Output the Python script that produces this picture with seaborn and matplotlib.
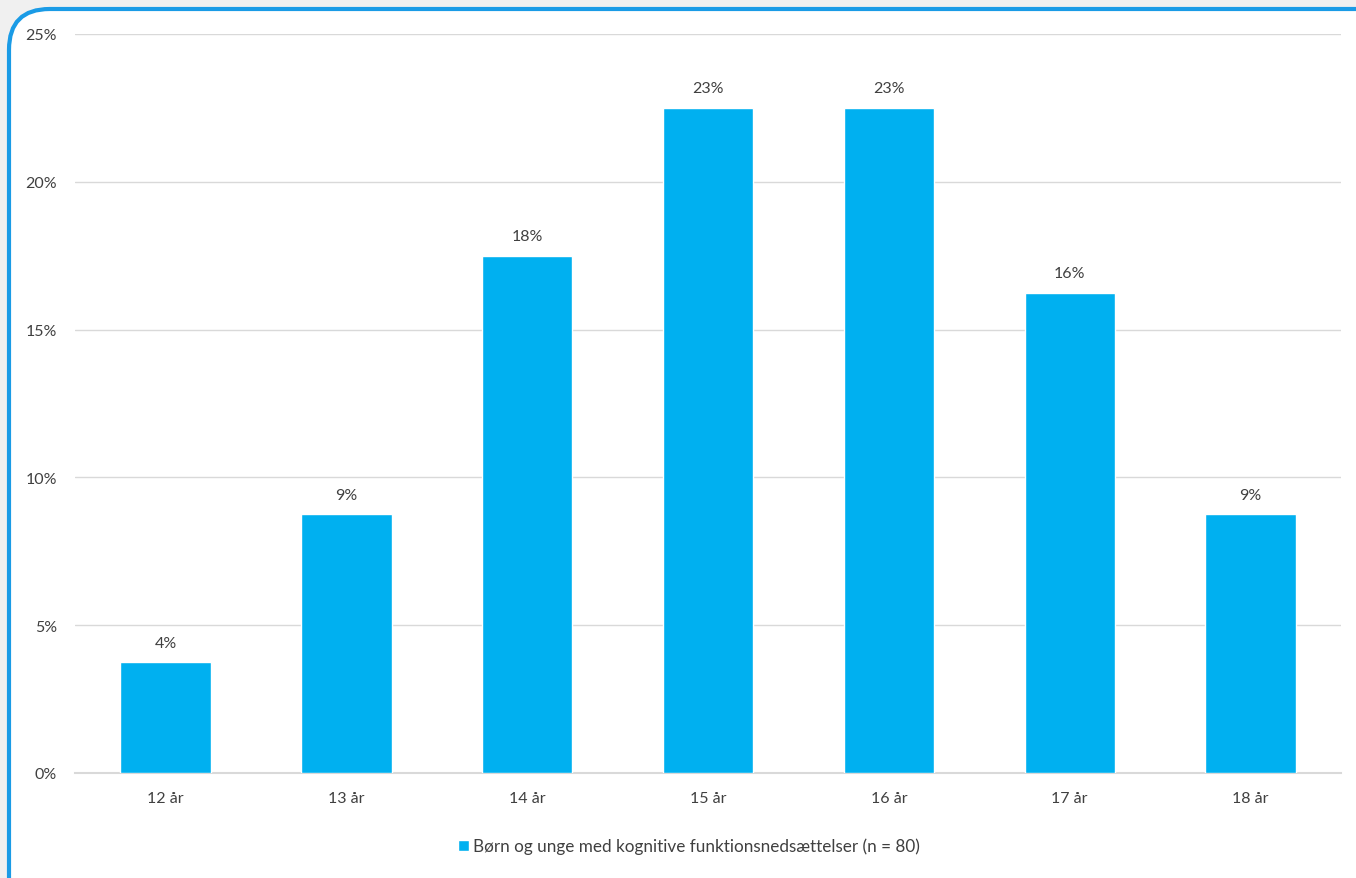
import matplotlib
matplotlib.use("Agg")
import matplotlib.pyplot as plt
from matplotlib.patches import FancyBboxPatch
from matplotlib.ticker import PercentFormatter, MultipleLocator
import seaborn as sns
import pandas as pd
import math

# Age groups and their share of respondents (n = 80)
ages = ["12 år", "13 år", "14 år", "15 år", "16 år", "17 år", "18 år"]
shares = [3.75, 8.75, 17.5, 22.5, 22.5, 16.25, 8.75]
series_name = "Børn og unge med kognitive funktionsnedsættelser (n = 80)"

BAR = "#00B0F0"
GRID = "#D9D9D9"
TEXT = "#404040"

sns.set_theme(style="white")
plt.rcParams["font.family"] = ["Lato", "DejaVu Sans"]

W, H, DPI = 1356, 879, 100
fig = plt.figure(figsize=(W / DPI, H / DPI), dpi=DPI)
fig.patch.set_facecolor("#F0F0F0")

# rounded white card with a blue outline, running off the right and bottom edges
card = FancyBboxPatch((9 / W, -0.05), 1.2, 1 - 10 / H + 0.05,
                      boxstyle="round,pad=0,rounding_size=0.03",
                      transform=fig.transFigure, facecolor="white",
                      edgecolor="#1A9BE6", linewidth=3, zorder=0,
                      mutation_aspect=W / H)
fig.add_artist(card)

ax = fig.add_axes([75 / W, 1 - 774 / H, (1341 - 75) / W, (774 - 35) / H])
ax.set_facecolor("none")

df = pd.DataFrame({"age": ages, "share": shares})
sns.barplot(data=df, x="age", y="share", color=BAR, width=0.5,
            saturation=1, ax=ax, zorder=3)

ax.set_ylim(0, 25)
ax.set_xlim(-0.5, len(ages) - 0.5)
ax.yaxis.set_major_locator(MultipleLocator(5))
ax.yaxis.set_major_formatter(PercentFormatter(decimals=0))
ax.grid(axis="y", color=GRID, linewidth=1, zorder=0)
ax.set_xlabel("")
ax.set_ylabel("")
for side in ["top", "right", "left"]:
    ax.spines[side].set_visible(False)
ax.spines["bottom"].set_color(GRID)
ax.spines["bottom"].set_linewidth(1.5)
ax.tick_params(axis="both", length=0, labelsize=11.5, colors=TEXT)
ax.tick_params(axis="x", pad=13)
ax.tick_params(axis="y", pad=13)

# value labels, rounded half-up to whole percent
for i, v in enumerate(shares):
    ax.annotate(f"{math.floor(v + 0.5)}%", (i, v), xytext=(0, 9),
                textcoords="offset points", ha="center", va="bottom",
                fontsize=11.5, color=TEXT)

# legend
handle = plt.Rectangle((0, 0), 1, 1, facecolor=BAR)
fig.legend([handle], [series_name], loc="center", bbox_to_anchor=(0.508, 1 - 847 / H),
           frameon=False, fontsize=12.3, handlelength=0.65, handleheight=0.65,
           handletextpad=0.25, labelcolor=TEXT)

fig.savefig("out.png", dpi=DPI, facecolor=fig.get_facecolor())
